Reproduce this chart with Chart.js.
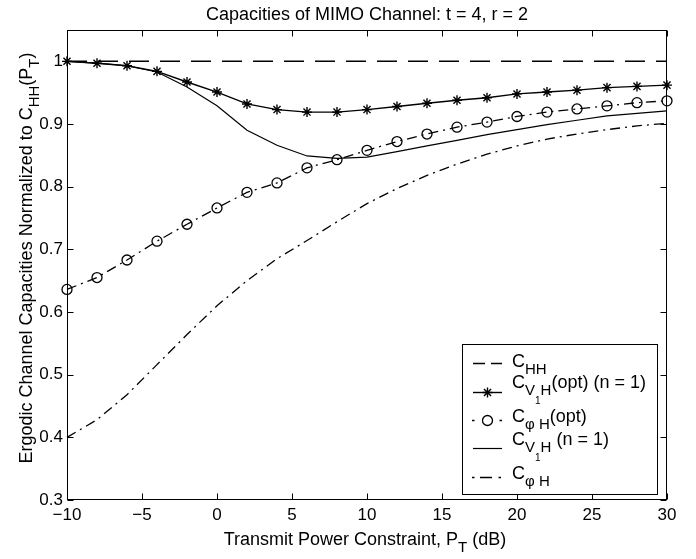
<!DOCTYPE html>
<html>
<head>
<meta charset="utf-8">
<script src="https://cdn.jsdelivr.net/npm/chart.js@4.4.1/dist/chart.umd.min.js"></script>
<style>
  html, body { margin: 0; padding: 0; background: #fff; }
  canvas { display: block; }
</style>
</head>
<body>
<canvas id="chart" width="696" height="559"></canvas>
<script>
// ----- data -----
const powerDb = [-10, -8, -6, -4, -2, 0, 2, 4, 6, 8, 10, 12, 14, 16, 18, 20, 22, 24, 26, 28, 30];
const capHH = [1, 1, 1, 1, 1, 1, 1, 1, 1, 1, 1, 1, 1, 1, 1, 1, 1, 1, 1, 1, 1];
const capV1Hopt = [1.000, 0.997, 0.993, 0.984, 0.967, 0.951, 0.932, 0.923, 0.919, 0.919, 0.923, 0.928, 0.933, 0.938, 0.942, 0.948, 0.951, 0.954, 0.958, 0.960, 0.962];
const capPhiHopt = [0.636, 0.655, 0.683, 0.713, 0.740, 0.766, 0.791, 0.806, 0.830, 0.843, 0.858, 0.872, 0.884, 0.895, 0.903, 0.912, 0.919, 0.924, 0.929, 0.934, 0.937];
const capV1H = [1.000, 0.997, 0.993, 0.983, 0.959, 0.929, 0.890, 0.866, 0.849, 0.845, 0.847, 0.856, 0.865, 0.874, 0.883, 0.891, 0.899, 0.906, 0.913, 0.917, 0.921];
const capPhiH = [0.400, 0.428, 0.468, 0.516, 0.564, 0.610, 0.650, 0.685, 0.714, 0.744, 0.773, 0.797, 0.818, 0.836, 0.852, 0.865, 0.876, 0.884, 0.891, 0.897, 0.901];

const xTicks = [-10, -5, 0, 5, 10, 15, 20, 25, 30];
const yTicks = [0.3, 0.4, 0.5, 0.6, 0.7, 0.8, 0.9, 1];
const yTickLabels = ['0.3', '0.4', '0.5', '0.6', '0.7', '0.8', '0.9', '1'];

const FONT = '"Liberation Sans", Arial, Helvetica, sans-serif';
const DASH = [20, 11];
const DASHDOT = [10, 5, 2, 5];

// rich text pieces: [text, level] level 0 normal, 1 subscript, 2 sub-subscript
const titleText = 'Capacities of MIMO Channel: t = 4, r = 2';
const xTitle = [['Transmit Power Constraint, P', 0], ['T', 1], [' (dB)', 0]];
const yTitle = [['Ergodic Channel Capacities Normalized to C', 0], ['HH', 1], ['(P', 0], ['T', 1], [')', 0]];
const legendLabels = [
    [['C', 0], ['HH', 1]],
    [['C', 0], ['V', 1], ['1', 2], ['H', 1], ['(opt) (n = 1)', 0]],
    [['C', 0], ['\u03c6 H', 1], ['(opt)', 0]],
    [['C', 0], ['V', 1], ['1', 2], ['H', 1], [' (n = 1)', 0]],
    [['C', 0], ['\u03c6 H', 1]]
];

const SIZES = [18, 15, 10];
const SHIFT = [0, 7, 16];

function toPoints(vals) {
    return powerDb.map((x, i) => ({ x: x, y: vals[i] }));
}

function richWidth(ctx, parts) {
    let w = 0;
    parts.forEach(([t, lvl]) => {
        ctx.font = SIZES[lvl] + 'px ' + FONT;
        w += ctx.measureText(t).width;
    });
    return w;
}

function drawRich(ctx, parts, x, y) {
    let cx = x;
    parts.forEach(([t, lvl]) => {
        ctx.font = SIZES[lvl] + 'px ' + FONT;
        ctx.fillText(t, cx, y + SHIFT[lvl]);
        cx += ctx.measureText(t).width;
    });
}

// frame, inward ticks, titles and the boxed legend (matlab look)
const decorPlugin = {
    id: 'decor',
    afterDraw(chart) {
        const { ctx, chartArea: a, scales } = chart;
        const L = Math.round(a.left) + 0.5, R = Math.round(a.right) - 0.5;
        const T = Math.round(a.top) + 0.5, B = Math.round(a.bottom) - 0.5;
        ctx.save();
        ctx.strokeStyle = '#000';
        ctx.fillStyle = '#000';
        ctx.lineWidth = 1;
        ctx.setLineDash([]);
        ctx.strokeRect(L, T, R - L, B - T);

        const tk = 6;
        ctx.beginPath();
        xTicks.forEach(v => {
            const px = Math.round(scales.x.getPixelForValue(v)) + 0.5;
            ctx.moveTo(px, B); ctx.lineTo(px, B - tk);
            ctx.moveTo(px, T); ctx.lineTo(px, T + tk);
        });
        yTicks.forEach(v => {
            const py = Math.round(scales.y.getPixelForValue(v)) + 0.5;
            ctx.moveTo(L, py); ctx.lineTo(L + tk, py);
            ctx.moveTo(R, py); ctx.lineTo(R - tk, py);
        });
        ctx.stroke();

        // titles
        ctx.textBaseline = 'alphabetic';
        ctx.textAlign = 'left';
        ctx.font = '18px ' + FONT;
        const tw = ctx.measureText(titleText).width;
        ctx.fillText(titleText, (a.left + a.right) / 2 - tw / 2, 20);

        const xw = richWidth(ctx, xTitle);
        drawRich(ctx, xTitle, 365 - xw / 2, 545);

        const yw = richWidth(ctx, yTitle);
        ctx.save();
        ctx.translate(32, 258);
        ctx.rotate(-Math.PI / 2);
        drawRich(ctx, yTitle, -yw / 2, 0);
        ctx.restore();

        // legend box
        ctx.fillStyle = '#fff';
        ctx.fillRect(462, 344, 195, 150);
        ctx.strokeRect(462.5, 344.5, 195, 150);
        ctx.fillStyle = '#000';

        const rowY = [363, 392, 420, 448, 477];
        const textDy = [4, -4, 2, -3, 2];
        const sxm = 487.5;
        const sampleSegs = [
            [[473, 485], [491, 502]],
            [[473, 502]],
            [[472, 474.5], [499.5, 502]],
            [[473, 502]],
            [[472, 474.5], [480, 492], [498.5, 501]]
        ];
        chart.data.datasets.forEach((ds, i) => {
            const y = rowY[i] + 0.5;
            ctx.lineWidth = ds.borderWidth;
            ctx.beginPath();
            sampleSegs[i].forEach(([s, e]) => { ctx.moveTo(s, y); ctx.lineTo(e, y); });
            ctx.stroke();
            if (ds.pointRadius > 0) {
                ctx.fillStyle = ds.pointBackgroundColor;
                Chart.helpers.drawPoint(ctx, {
                    pointStyle: ds.pointStyle,
                    radius: ds.pointRadius,
                    borderWidth: ds.pointBorderWidth,
                    rotation: 0
                }, sxm, y);
                ctx.fillStyle = '#000';
            }
            drawRich(ctx, legendLabels[i], 512, rowY[i] + textDy[i]);
        });
        ctx.restore();
    }
};

Chart.defaults.font.family = FONT;
Chart.defaults.color = '#000';

const chart = new Chart(document.getElementById('chart'), {
    type: 'line',
    data: {
        datasets: [
            { label: 'CHH', data: toPoints(capHH), borderColor: '#000', borderWidth: 1.5, borderDash: DASH, pointRadius: 0 },
            { label: 'CV1H(opt) (n = 1)', data: toPoints(capV1Hopt), borderColor: '#000', borderWidth: 1.4,
              pointStyle: 'star', pointRadius: 5, pointBorderWidth: 1.4, pointBorderColor: '#000', pointBackgroundColor: '#000' },
            { label: 'CphiH(opt)', data: toPoints(capPhiHopt), borderColor: '#000', borderWidth: 1.3, borderDash: DASHDOT,
              pointStyle: 'circle', pointRadius: 5, pointBorderWidth: 1.3, pointBorderColor: '#000', pointBackgroundColor: 'rgba(0,0,0,0)' },
            { label: 'CV1H (n = 1)', data: toPoints(capV1H), borderColor: '#000', borderWidth: 1.2, pointRadius: 0 },
            { label: 'CphiH', data: toPoints(capPhiH), borderColor: '#000', borderWidth: 1.3, borderDash: DASHDOT, pointRadius: 0 }
        ]
    },
    options: {
        responsive: false,
        animation: false,
        devicePixelRatio: 1,
        events: [],
        layout: { padding: { top: 30, right: 29, left: 0, bottom: 0 } },
        elements: { line: { tension: 0, fill: false } },
        datasets: { line: { clip: false } },
        plugins: { legend: { display: false }, title: { display: false }, tooltip: { enabled: false } },
        scales: {
            x: {
                type: 'linear', min: -10, max: 30,
                grid: { display: false, drawTicks: false },
                border: { display: false },
                afterBuildTicks: s => { s.ticks = xTicks.map(v => ({ value: v })); },
                afterFit: s => { s.height = 59; },
                ticks: { padding: 5, color: '#000', font: { size: 17 }, maxRotation: 0,
                         callback: v => String(v).replace('-', '\u2212') }
            },
            y: {
                type: 'linear', min: 0.3, max: 1.05,
                grid: { display: false, drawTicks: false },
                border: { display: false },
                afterBuildTicks: s => { s.ticks = yTicks.map(v => ({ value: v })); },
                afterFit: s => { s.width = 67; },
                ticks: { padding: 4, color: '#000', font: { size: 17 },
                         callback: (v, i) => yTickLabels[i] }
            }
        }
    },
    plugins: [decorPlugin]
});
</script>
</body>
</html>
